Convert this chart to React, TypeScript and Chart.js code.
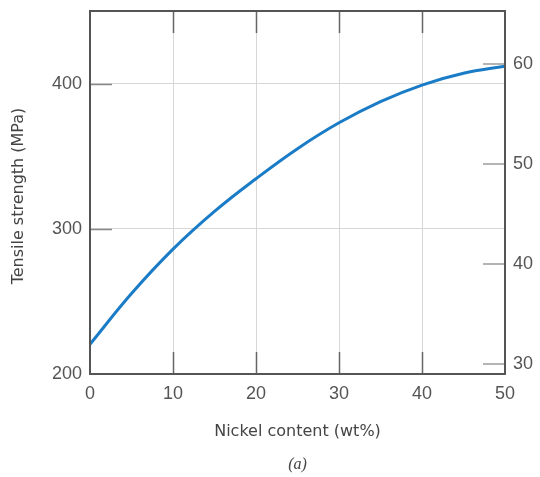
import React, { useEffect, useRef } from "react";
import { Chart, registerables } from "chart.js";

Chart.register(...registerables);

const nickel = [0, 5, 10, 15, 20, 25, 30, 35, 40, 45, 50];
const tensileMPa = [220.5, 255.4, 286, 312, 334.5, 355.2, 373, 387.6, 399, 407.1, 412];
const xTicks = [0, 10, 20, 30, 40, 50];
const mpaTicks = [200, 300, 400];
const ksiTicks = [30, 40, 50, 60];
const MPA_PER_KSI = 6.895;
const yMin = 200;
const yMax = 450;

const frameAndTicks = {
  id: "frameAndTicks",
  afterDatasetsDraw(chart: any) {
    const { ctx, chartArea: a, scales } = chart;
    const L = 22;
    ctx.save();
    ctx.strokeStyle = "#666";
    ctx.lineWidth = 1.5;
    xTicks.forEach((v) => {
      if (v === 0 || v === 50) return;
      const px = Math.round(scales.x.getPixelForValue(v)) + 0.5;
      ctx.beginPath();
      ctx.moveTo(px, a.bottom);
      ctx.lineTo(px, a.bottom - L);
      ctx.moveTo(px, a.top);
      ctx.lineTo(px, a.top + L);
      ctx.stroke();
    });
    ctx.strokeStyle = "#888";
    mpaTicks.forEach((v) => {
      if (v === yMin) return;
      const py = Math.round(scales.y.getPixelForValue(v)) + 0.5;
      ctx.beginPath();
      ctx.moveTo(a.left, py);
      ctx.lineTo(a.left + L, py);
      ctx.stroke();
    });
    ctx.strokeStyle = "#b4b4b4";
    ctx.lineWidth = 2;
    ksiTicks.forEach((v) => {
      const py = Math.round(scales.y2.getPixelForValue(v));
      ctx.beginPath();
      ctx.moveTo(a.right, py);
      ctx.lineTo(a.right - L, py);
      ctx.stroke();
    });
    ctx.strokeStyle = "#555";
    ctx.lineWidth = 2;
    ctx.strokeRect(a.left, a.top, a.right - a.left, a.bottom - a.top);
    ctx.fillStyle = "#444";
    ctx.font = "16px 'DejaVu Sans', sans-serif";
    ctx.textAlign = "center";
    ctx.textBaseline = "middle";
    ctx.fillText("Nickel content (wt%)", (a.left + a.right) / 2, 432);
    ctx.save();
    ctx.translate(19, 196);
    ctx.rotate(-Math.PI / 2);
    ctx.fillText("Tensile strength (MPa)", 0, 0);
    ctx.restore();
    ctx.font = "italic 16px 'Liberation Serif', 'Times New Roman', serif";
    ctx.fillText("(a)", (a.left + a.right) / 2, 465);
    ctx.restore();
  },
};

export default function App() {
  const ref = useRef<HTMLCanvasElement | null>(null);
  useEffect(() => {
    document.body.style.margin = "0";
    const canvas = ref.current;
    if (!canvas) return;
    const tickFont = { family: "'Liberation Sans', Arial, sans-serif", size: 18 };
    const chart = new Chart(canvas, {
      type: "line",
      data: {
        labels: nickel,
        datasets: [
          {
            data: nickel.map((x, i) => ({ x, y: tensileMPa[i] })),
            borderColor: "#1a7cc6",
            borderWidth: 3,
            pointRadius: 0,
            tension: 0.4,
            fill: false,
          },
        ],
      },
      options: {
        animation: false,
        responsive: false,
        maintainAspectRatio: false,
        layout: { padding: { top: 11, left: 0, right: 0, bottom: 0 } },
        plugins: { legend: { display: false }, tooltip: { enabled: false } },
        scales: {
          x: {
            type: "linear",
            min: 0,
            max: 50,
            afterBuildTicks: (s: any) => {
              s.ticks = xTicks.map((v) => ({ value: v }));
            },
            afterFit: (s: any) => {
              s.height = 103;
              s.paddingLeft = 0;
              s.paddingRight = 0;
            },
            grid: {
              drawTicks: false,
              color: (c: any) =>
                c.tick && (c.tick.value === 0 || c.tick.value === 50) ? "rgba(0,0,0,0)" : "#d6d6d6",
              lineWidth: 1,
            },
            border: { display: false },
            ticks: { padding: 9, color: "#555", font: tickFont, maxRotation: 0 },
          },
          y: {
            type: "linear",
            position: "left",
            min: yMin,
            max: yMax,
            afterBuildTicks: (s: any) => {
              s.ticks = mpaTicks.map((v) => ({ value: v }));
            },
            afterFit: (s: any) => {
              s.width = 90;
              s.paddingTop = 0;
              s.paddingBottom = 0;
            },
            grid: {
              drawTicks: false,
              color: (c: any) => (c.tick && c.tick.value === yMin ? "rgba(0,0,0,0)" : "#d6d6d6"),
              lineWidth: 1,
            },
            border: { display: false },
            ticks: { padding: 8, color: "#555", font: tickFont },
          },
          y2: {
            type: "linear",
            position: "right",
            min: yMin / MPA_PER_KSI,
            max: yMax / MPA_PER_KSI,
            afterBuildTicks: (s: any) => {
              s.ticks = ksiTicks.map((v) => ({ value: v }));
            },
            afterFit: (s: any) => {
              s.width = 35;
              s.paddingTop = 0;
              s.paddingBottom = 0;
            },
            grid: { display: false, drawTicks: false },
            border: { display: false },
            ticks: { padding: 8, color: "#555", font: tickFont },
          },
        },
      },
      plugins: [frameAndTicks],
    } as any);
    return () => chart.destroy();
  }, []);
  return (
    <div style={{ width: 540, height: 477 }}>
      <canvas ref={ref} width={540} height={477} style={{ display: "block" }} />
    </div>
  );
}
